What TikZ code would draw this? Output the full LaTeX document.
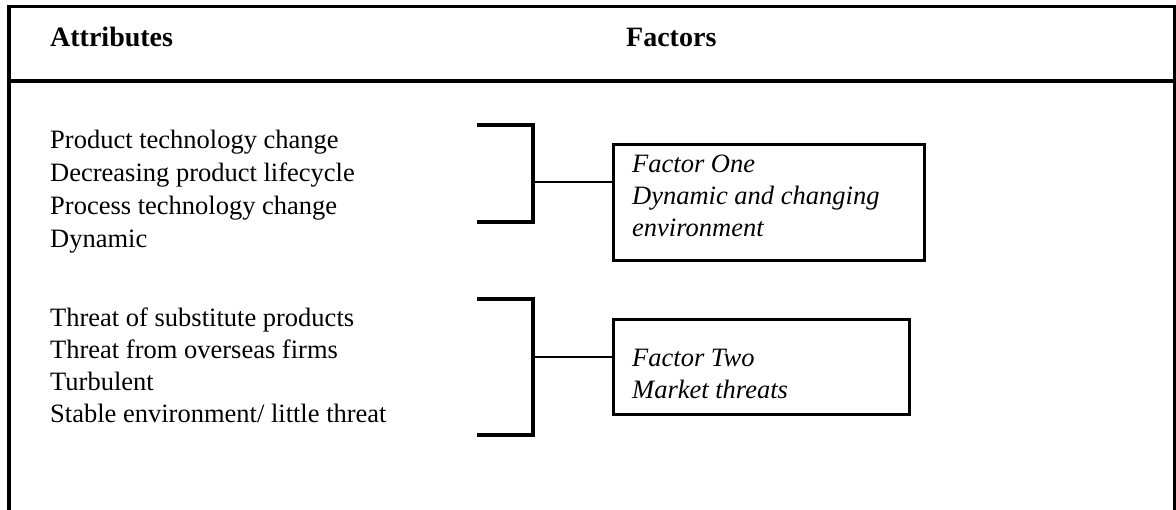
\documentclass[tikz,border=0pt]{standalone}
\usepackage{fontspec}
\setmainfont{Liberation Serif}
\begin{document}
\begin{tikzpicture}[x=1pt,y=-1pt,
  head/.style={anchor=base west, inner sep=0pt, font=\fontsize{28}{32}\selectfont\bfseries},
  attr/.style={anchor=base west, inner sep=0pt, font=\fontsize{26.5}{30}\selectfont},
  factortext/.style={anchor=base west, inner sep=0pt, font=\fontsize{26.5}{30}\selectfont\itshape},
  factorbox/.style={draw, line width=3.2pt, anchor=north west, inner sep=0pt},
  bracket/.style={line width=3.2pt},
  link/.style={line width=2.4pt}]
\useasboundingbox (0,0) rectangle (1176,510);

% table frame, open at the bottom, and header rule
\draw[line width=4pt] (9,510) -- (9,6.5);
\draw[line width=3pt] (7,6.5) -- (1174.5,6.5);
\draw[line width=3pt] (1174.5,5) -- (1174.5,510);
\draw[line width=4.5pt] (7,81) -- (1175,81);

% column headings
\node[head] (hattr) at (50,47) {Attributes};
\node[head] (hfact) at (626,47) {Factors};

% first group of attributes
\node[attr] (a1) at (50,149) {Product technology change};
\node[attr] (a2) at (50,182) {Decreasing product lifecycle};
\node[attr] (a3) at (50,215) {Process technology change};
\node[attr] (a4) at (50,248) {Dynamic};

% second group of attributes
\node[attr] (a5) at (50,327) {Threat of substitute products};
\node[attr] (a6) at (50,359) {Threat from overseas firms};
\node[attr] (a7) at (50,391) {Turbulent};
\node[attr] (a8) at (50,423) {Stable environment/ little threat};

% factor boxes
\node[factorbox, minimum width=311pt, minimum height=116pt] (f1) at (612,143) {};
\node[factortext] (f1a) at (632,173) {Factor One};
\node[factortext] (f1b) at (632,205) {Dynamic and changing};
\node[factortext] (f1c) at (632,237) {environment};

\node[factorbox, minimum width=296pt, minimum height=95pt] (f2) at (612,318) {};
\node[factortext] (f2a) at (632,367) {Factor Two};
\node[factortext] (f2b) at (632,399) {Market threats};

% brackets grouping the attributes
\coordinate (b1t) at (477,125);
\coordinate (b1b) at (477,222);
\coordinate (b1m) at (533,182);
\draw[bracket] (b1t) -- (b1t -| b1m) -- (b1b -| b1m) -- (b1b);
\draw[link] (b1m) -- (b1m -| f1.west);

\coordinate (b2t) at (477,299);
\coordinate (b2b) at (477,435);
\coordinate (b2m) at (533,357);
\draw[bracket] (b2t) -- (b2t -| b2m) -- (b2b -| b2m) -- (b2b);
\draw[link] (b2m) -- (b2m -| f2.west);
\end{tikzpicture}
\end{document}
